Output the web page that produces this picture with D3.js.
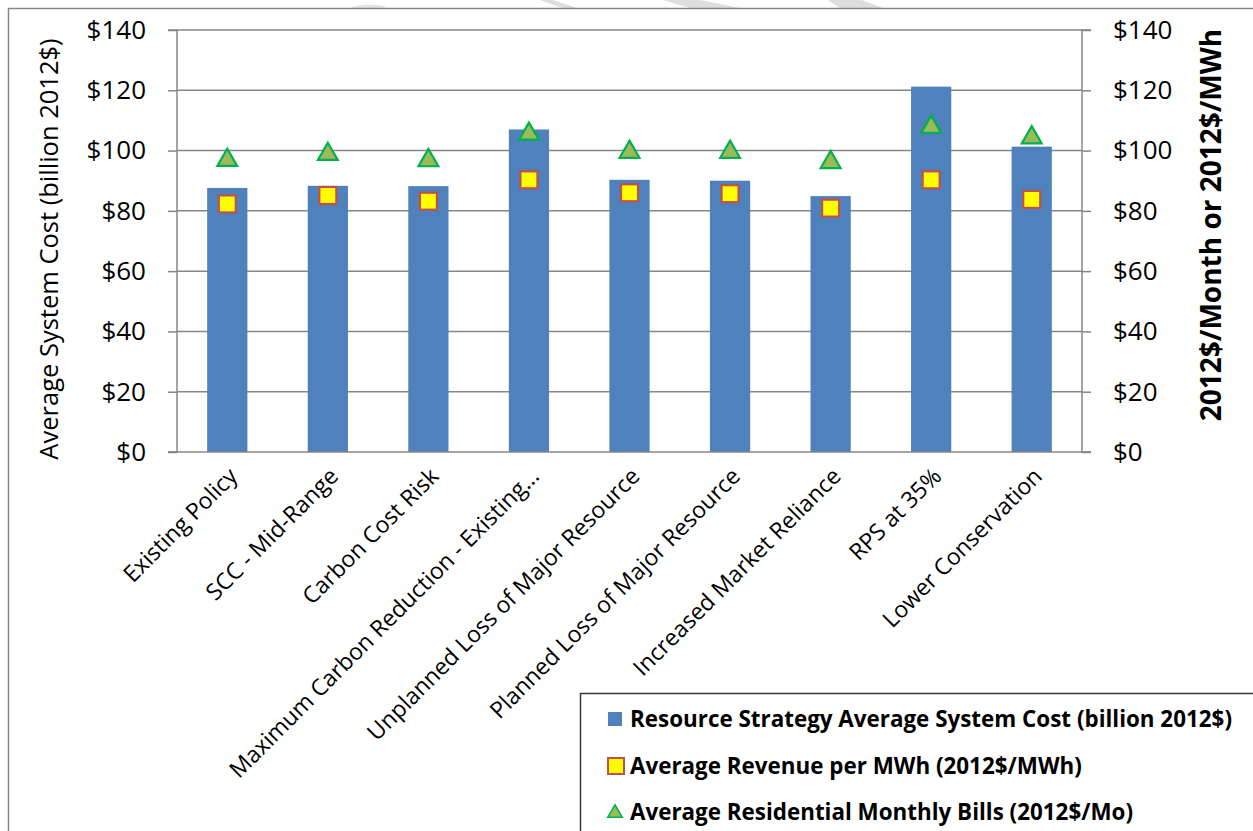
<!DOCTYPE html>
<html>
<head>
<meta charset="utf-8">
<script src="https://cdn.jsdelivr.net/npm/d3@7"></script>
<style>
  html, body { margin: 0; padding: 0; background: #fff; }
  svg { display: block; font-family: "Open Sans", Lato, sans-serif; }
</style>
</head>
<body>
<svg id="chart" width="1253" height="831"></svg>
<script>
// Resource strategies compared
const categories = [
  "Existing Policy",
  "SCC - Mid-Range",
  "Carbon Cost Risk",
  "Maximum Carbon Reduction - Existing...",
  "Unplanned Loss of Major Resource",
  "Planned Loss of Major Resource",
  "Increased Market Reliance",
  "RPS at 35%",
  "Lower Conservation"
];

// Average system cost, billion 2012$ (left axis)
const systemCost = [87.6, 88.3, 88.2, 107.0, 90.3, 90.0, 84.9, 121.2, 101.3];

// Average revenue per MWh, 2012$/MWh (right axis)
const revenuePerMWh = [82.3, 85.1, 83.2, 90.3, 86.0, 85.7, 80.9, 90.3, 83.8];

// Average residential monthly bill, 2012$/Mo (right axis)
const monthlyBill = [97.3, 99.3, 97.2, 106.0, 100.0, 100.0, 96.6, 108.3, 104.8];

const yTicks = [0, 20, 40, 60, 80, 100, 120, 140];

const legendLabels = [
  "Resource Strategy Average System Cost (billion 2012$)",
  "Average Revenue per MWh (2012$/MWh)",
  "Average Residential Monthly Bills (2012$/Mo)"
];

const leftTitle = "Average System Cost (billion 2012$)";
const rightTitle = "2012$/Month or 2012$/MWh";

const svg = d3.select("#chart");

const plot = { left: 177, right: 1082, top: 30, bottom: 452 };
const axisGrey = "#868686";

// faint watermark fragments along the top edge
const marks = [
  [[540, 0], [553, 0], [577, 8], [562, 8]],
  [[663, 0], [700, 0], [740, 8], [690, 8]],
  [[828, 0], [862, 0], [883, 8], [840, 8]]
];
svg.append("g").selectAll("path").data(marks).join("path")
  .attr("d", d => "M" + d.map(p => p.join(",")).join("L") + "Z")
  .attr("fill", "#dedede");
svg.append("path")
  .attr("d", "M350,8 Q365,2 385,6 L384,8 Z")
  .attr("fill", "#e4e4e4");

// outer chart frame
svg.append("rect")
  .attr("x", 8.5).attr("y", 8.5)
  .attr("width", 1300).attr("height", 900)
  .attr("fill", "none")
  .attr("stroke", axisGrey)
  .attr("stroke-width", 1.5);

const x = d3.scaleBand()
  .domain(categories)
  .range([plot.left, plot.right])
  .paddingInner(0.6)
  .paddingOuter(0.3);

const yLeft = d3.scaleLinear().domain([0, 140]).range([plot.bottom, plot.top]);
const yRight = d3.scaleLinear().domain([0, 140]).range([plot.bottom, plot.top]);

const money = d => "$" + d;

// gridlines
svg.append("g")
  .selectAll("line")
  .data(yTicks.filter(t => t > 0))
  .join("line")
  .attr("x1", plot.left).attr("x2", plot.right)
  .attr("y1", d => yLeft(d)).attr("y2", d => yLeft(d))
  .attr("stroke", axisGrey)
  .attr("stroke-width", 1.5);

// left axis
const gLeft = svg.append("g")
  .attr("transform", `translate(${plot.left},0)`)
  .call(d3.axisLeft(yLeft).tickValues(yTicks).tickFormat(money).tickSize(9).tickPadding(22));
// right axis
const gRight = svg.append("g")
  .attr("transform", `translate(${plot.right},0)`)
  .call(d3.axisRight(yRight).tickValues(yTicks).tickFormat(money).tickSize(9).tickPadding(22));

[gLeft, gRight].forEach(g => {
  g.select(".domain").attr("stroke", axisGrey).attr("stroke-width", 1.5);
  g.selectAll(".tick line").attr("stroke", axisGrey).attr("stroke-width", 1.5);
  g.selectAll(".tick text")
    .attr("fill", "#000")
    .style("font-size", "26px")
    .style("font-family", "'Open Sans', Lato, sans-serif");
});
gLeft.select(".domain").attr("d", `M-9,${plot.top}H0V${plot.bottom}H-9`);
gRight.select(".domain").attr("d", `M9,${plot.top}H0V${plot.bottom}H9`);

// bars
svg.append("g")
  .selectAll("rect")
  .data(systemCost)
  .join("rect")
  .attr("x", (d, i) => x(categories[i]))
  .attr("width", x.bandwidth())
  .attr("y", d => yLeft(d))
  .attr("height", d => yLeft(0) - yLeft(d))
  .attr("fill", "#4F81BD");

// category axis baseline
svg.append("line")
  .attr("x1", plot.left - 9).attr("x2", plot.right + 9)
  .attr("y1", plot.bottom).attr("y2", plot.bottom)
  .attr("stroke", axisGrey).attr("stroke-width", 1.5);

// category labels
svg.append("g")
  .selectAll("text")
  .data(categories)
  .join("text")
  .attr("transform", d => `translate(${x(d) + x.bandwidth() / 2 + 6},${plot.bottom + 20}) rotate(-45)`)
  .attr("text-anchor", "end")
  .attr("dy", "0.35em")
  .style("font-size", "23px")
  .attr("fill", "#000")
  .text(d => d);

// revenue squares
const sq = 17;
svg.append("g")
  .selectAll("rect")
  .data(revenuePerMWh)
  .join("rect")
  .attr("x", (d, i) => x(categories[i]) + x.bandwidth() / 2 - sq / 2)
  .attr("y", d => yRight(d) - sq / 2)
  .attr("width", sq).attr("height", sq)
  .attr("fill", "#FFFF00")
  .attr("stroke", "#C0504D")
  .attr("stroke-width", 2.2);

// monthly bill triangles
const tri = d3.symbol().type(d3.symbolTriangle).size(170);
svg.append("g")
  .selectAll("path")
  .data(monthlyBill)
  .join("path")
  .attr("transform", (d, i) => `translate(${x(categories[i]) + x.bandwidth() / 2},${yRight(d) + 1.5})`)
  .attr("d", tri)
  .attr("fill", "#9BBB59")
  .attr("stroke", "#00B050")
  .attr("stroke-width", 2.2)
  .attr("stroke-linejoin", "miter");

// axis titles
svg.append("text")
  .attr("transform", `translate(58,249) rotate(-90)`)
  .attr("text-anchor", "middle")
  .style("font-size", "25.5px")
  .attr("fill", "#000")
  .text(leftTitle);

svg.append("text")
  .attr("transform", `translate(1211,225) rotate(-90)`)
  .attr("text-anchor", "middle")
  .attr("dy", "0.35em")
  .style("font-size", "28px")
  .style("font-weight", "bold")
  .attr("fill", "#000")
  .text(rightTitle);

// legend
const lg = svg.append("g");
lg.append("rect")
  .attr("x", 580.5).attr("y", 693.5)
  .attr("width", 800).attr("height", 300)
  .attr("fill", "#fff")
  .attr("stroke", "#3a3a3a")
  .attr("stroke-width", 1.5);

const rowY = [719, 766, 812];
const rows = lg.selectAll("g.row").data(legendLabels).join("g")
  .attr("class", "row")
  .attr("transform", (d, i) => `translate(0,${rowY[i]})`);

rows.each(function (d, i) {
  const g = d3.select(this);
  if (i === 0) {
    g.append("rect").attr("x", 608).attr("y", -7).attr("width", 14).attr("height", 14).attr("fill", "#4F81BD");
  } else if (i === 1) {
    g.append("rect").attr("x", 608).attr("y", -8).attr("width", 16).attr("height", 16)
      .attr("fill", "#FFFF00").attr("stroke", "#C0504D").attr("stroke-width", 2);
  } else {
    g.append("path").attr("transform", "translate(615,1)")
      .attr("d", d3.symbol().type(d3.symbolTriangle).size(90))
      .attr("fill", "#9BBB59").attr("stroke", "#00B050").attr("stroke-width", 1.5);
  }
  g.append("text")
    .attr("x", 630)
    .attr("dy", "0.35em")
    .style("font-size", "22.4px")
    .style("font-weight", "bold")
    .attr("fill", "#000")
    .text(d);
});
</script>
</body>
</html>
